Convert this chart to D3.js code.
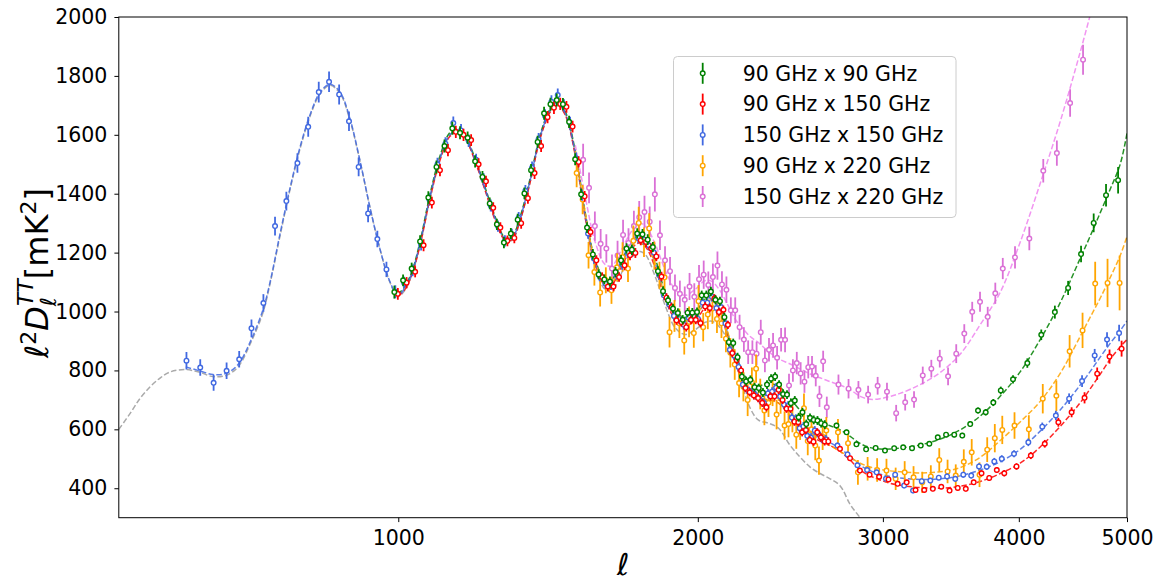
<!DOCTYPE html>
<html lang="en">
<head>
<meta charset="utf-8">
<script src="https://cdn.jsdelivr.net/npm/d3@7/dist/d3.min.js"></script>
<style>
  body { margin: 0; background: #fff; font-family: "DejaVu Sans", sans-serif; }
  .axis text { font-family: "DejaVu Sans", sans-serif; font-size: 20.5px; fill: #000; }
  .axis path { display: none; }
  .axis line { stroke: #000; stroke-width: 1; }
  .legend text { font-family: "DejaVu Sans", sans-serif; font-size: 20.5px; fill: #000; }
</style>
</head>
<body>
<svg id="chart" width="1160" height="577"></svg>
<script>
// multipole bin centres (dl ~21, then 60, then 120)
var ells = [
  594, 615, 636, 657, 678, 699, 720, 741, 762, 783,
  804, 825, 846, 867, 888, 909, 930, 951, 972, 993,
  1014, 1035, 1056, 1077, 1098, 1119, 1140, 1161, 1182, 1203,
  1224, 1245, 1266, 1287, 1308, 1329, 1350, 1371, 1392, 1413,
  1434, 1455, 1476, 1497, 1518, 1539, 1560, 1581, 1602, 1623,
  1644, 1665, 1686, 1707, 1728, 1749, 1770, 1791, 1812, 1833,
  1854, 1875, 1896, 1917, 1938, 1959, 1980, 2001, 2022, 2043,
  2064, 2085, 2106, 2127, 2148, 2169, 2190, 2211, 2232, 2253,
  2274, 2295, 2316, 2337, 2358, 2379, 2400, 2421, 2442, 2463,
  2484, 2505, 2526, 2547, 2568, 2589, 2610, 2631, 2652,
  2720, 2780, 2840, 2900, 2960, 3020, 3080, 3140, 3200, 3260,
  3320, 3380, 3440, 3500, 3560, 3620, 3680, 3740, 3800, 3860,
  3960, 4080, 4200, 4320, 4440, 4560, 4680, 4800, 4920
];

// 150 GHz x 150 GHz, starts at first bin
var blueVals = [
  833, 810, 758, 799, 838, 943, 1029, 1290, 1375, 1504,
  1627, 1745, 1780, 1737, 1646, 1491, 1333, 1246, 1143, 1067,
  1098, 1140, 1228, 1380, 1500, 1570, 1640, 1615, 1580, 1515,
  1450, 1360, 1290, 1240, 1262, 1318, 1410, 1488, 1585, 1665,
  1712, 1735, 1700, 1640, 1520, 1395, 1265, 1180, 1120, 1095,
  1090, 1125, 1160, 1200, 1205, 1250, 1245, 1225, 1200, 1125,
  1055, 1025, 985, 975, 955, 980, 985, 975, 1030, 1030,
  1050, 1012, 1015, 960, 870, 850, 812, 752, 735, 725,
  716, 702, 690, 722, 728, 742, 712, 684, 680, 640,
  636, 604, 610, 578, 572, 596, 584, 568, 566,
  545, 515, 478, 462, 454, 432, 446, 409, 392, 424,
  426, 436, 440, 432, 446, 443, 474, 473, 491, 500,
  517, 556, 609, 647, 704, 764, 851, 905, 927
];
var blueErr = [
  30, 28, 27, 28, 28, 30, 30, 32, 32, 33, 34, 35, 35, 34, 33, 32, 30, 28, 26, 22,
  20, 20, 21, 21, 22, 22, 22, 22, 21, 21, 20, 20, 19, 19, 19, 20, 20, 21, 21, 22, 22, 22, 21, 21, 20,
  19, 18, 18, 17, 17, 17, 17, 18, 18, 18, 18, 18, 18, 17, 17, 16, 16, 16, 16, 16,
  16, 16, 16, 16, 16, 16, 16, 15, 15, 15,
  15, 15, 15, 15, 15, 15, 15, 15, 15, 15, 15, 15, 15, 15, 15, 15, 15, 15, 15, 15, 15, 15, 15, 15,
  10, 10, 9, 9, 9, 9, 9, 9, 9, 9, 9, 9, 10, 10, 10, 10, 11, 11, 12, 12,
  12, 13, 14, 16, 18, 20, 22, 25, 28
];

// 90 GHz x 90 GHz, starts at l = 993
var greenVals = [
  1066, 1106, 1146, 1238, 1387, 1491, 1562, 1622, 1607, 1590,
  1510, 1457, 1367, 1296, 1234, 1265, 1312, 1401, 1480, 1576,
  1673, 1704, 1718, 1704, 1644, 1517,
  1398, 1285, 1194, 1126, 1109, 1102, 1134, 1174, 1214, 1210,
  1265, 1262, 1244, 1219, 1137, 1069, 1038, 1010, 995, 972,
  996, 996, 998, 1055, 1055, 1068, 1040, 1035, 981, 896,
  893, 845, 779, 763, 768, 743, 740, 725, 752, 772,
  779, 752, 720, 718, 689, 698, 641, 658, 618, 639,
  632, 630, 621, 616,
  613, 590, 549, 532, 537, 528, 536, 539, 536, 545,
  551, 573, 582, 582, 579, 618, 664, 658, 691, 732,
  770, 825, 921, 998, 1080, 1195, 1301, 1395, 1446
];
var greenErr = [
  22, 20, 20, 21, 21, 22, 22, 22, 22, 21, 21, 20, 20, 19, 19, 19, 20, 20, 21, 21, 22, 22, 22, 21, 21, 20,
  19, 18, 18, 17, 17, 17, 17, 18, 18, 18, 18, 18, 18, 17, 17, 16, 16, 16, 16, 16,
  16, 16, 16, 16, 16, 16, 16, 15, 15, 15,
  15, 15, 15, 15, 15, 15, 15, 15, 15, 15, 15, 15, 15, 15, 15, 15, 15, 15, 15, 15, 15, 15, 15, 15,
  9, 9, 8, 8, 8, 8, 8, 8, 8, 8, 8, 8, 9, 9, 9, 10, 10, 11, 12, 13,
  14, 16, 18, 22, 24, 28, 32, 38, 45
];

// 90 GHz x 150 GHz, starts at l = 993
var redVals = [
  1060, 1098, 1135, 1225, 1370, 1480, 1548, 1610, 1600, 1582,
  1500, 1442, 1352, 1285, 1240, 1250, 1300, 1385, 1470, 1562,
  1660, 1692, 1705, 1695, 1628, 1508,
  1391, 1270, 1174, 1117, 1085, 1085, 1117, 1157, 1191, 1199,
  1242, 1236, 1214, 1187, 1119, 1047, 1015, 970, 964, 947,
  972, 972, 961, 1017, 1012, 1044, 998, 1006, 955, 859,
  835, 800, 740, 726, 715, 706, 690, 675, 712, 712,
  734, 700, 670, 670, 626, 624, 590, 598, 564, 558,
  590, 573, 559, 559,
  534, 502, 460, 446, 439, 430, 415, 420, 394, 394,
  398, 405, 392, 401, 398, 420, 451, 435, 462, 451,
  474, 511, 551, 624, 658, 707, 789, 847, 874
];
var redErr = [
  20, 19, 19, 20, 20, 21, 21, 21, 21, 20, 20, 19, 19, 18, 18, 18, 19, 19, 20, 20, 21, 21, 21, 20, 20, 19,
  18, 17, 17, 16, 16, 16, 16, 17, 17, 17, 17, 17, 17, 16, 16, 15, 15, 15, 15, 15,
  15, 15, 15, 15, 15, 15, 15, 14, 14, 14,
  14, 14, 14, 14, 14, 14, 14, 14, 14, 14, 14, 14, 14, 14, 14, 14, 14, 14, 14, 14, 14, 14, 14, 14,
  8, 8, 8, 8, 8, 8, 8, 8, 8, 8, 8, 8, 8, 8, 9, 9, 10, 10, 10, 11,
  11, 12, 13, 15, 17, 19, 21, 24, 27
];

// 90 GHz x 220 GHz, starts at l = 1518
var orangeVals = [
  1470, 1380, 1191, 1134, 1065, 1106, 1072, 1150, 1185, 1146,
  1240, 1301, 1235, 1282, 1190, 1123, 1116, 930, 985, 960,
  902, 965, 927, 1035, 947, 990, 1010, 975, 960, 908,
  860, 820, 757, 745, 700, 760, 806, 720, 664, 690,
  725, 650, 705, 613, 618, 640, 582, 610, 672, 560,
  600, 545, 494, 575, 596,
  590, 553, 454, 466, 462, 460, 432, 454, 437, 420,
  440, 496, 457, 443, 490, 522, 446, 531, 570, 598,
  613, 600, 704, 714, 865, 936, 1095, 1097, 1097
];
var orangeErr = [
  48, 50, 45, 46, 48, 44, 46, 48, 50, 46, 52, 55, 50, 52, 48, 46, 50, 52, 54, 50,
  48, 52, 50, 55, 48, 50, 52, 48, 50, 46, 50, 52, 48, 50, 55, 50, 48, 52, 50, 48,
  46, 50, 52, 48, 45, 50, 48, 46, 50, 48, 45, 50, 48, 45, 46,
  45, 44, 42, 40, 40, 40, 38, 38, 38, 36, 38, 40, 40, 38, 42, 45, 42, 42, 48, 48,
  45, 48, 50, 52, 55, 60, 74, 82, 93
];

// 150 GHz x 220 GHz, starts at l = 1539
var violetVals = [
  1515, 1420, 1290, 1230, 1214, 1146, 1190, 1260, 1233, 1290,
  1320, 1338, 1305, 1398, 1259, 1174, 1137, 1080, 1060, 1040,
  1085, 1050, 1110, 1125, 1090, 1117, 1156, 1092, 1074, 1004,
  1004, 947, 905, 862, 862, 857, 930, 834, 870, 885,
  843, 904, 904, 749, 800, 825, 790, 762, 811, 813,
  782, 712, 831, 675,
  752, 738, 734, 718, 748, 728, 655, 692, 701, 783,
  806, 840, 780, 857, 925, 999, 1033, 982, 1062, 1146,
  1184, 1248, 1478, 1538, 1708, 1855
];
var violetErr = [
  55, 52, 50, 50, 48, 48, 50, 52, 50, 52, 55, 55, 52, 58, 50, 48, 48, 46, 45, 45,
  46, 46, 48, 48, 46, 46, 48, 45, 45, 44, 44, 42, 42, 40, 40, 40, 42, 40, 40, 42,
  40, 40, 42, 40, 38, 38, 38, 38, 38, 36, 36, 36, 36, 36,
  34, 33, 30, 30, 30, 30, 28, 28, 28, 30, 30, 30, 30, 32, 32, 34, 34, 34, 36, 36,
  38, 40, 40, 43, 47, 51
];

// knots of the dashed model curves
var modelEll = [
  500, 515, 528, 542, 556, 570, 593, 615, 635, 656,
  676, 698, 719, 732, 750, 769, 788, 808, 828, 848,
  869, 890, 912, 934, 957, 980, 999, 1016, 1033, 1053,
  1079, 1105, 1131, 1153, 1172, 1200, 1229, 1258, 1288, 1309,
  1333, 1365, 1397, 1430, 1453, 1480, 1515, 1550, 1586, 1622,
  1648, 1678, 1717, 1748, 1776, 1817, 1859, 1901, 1944, 1988,
  2033, 2065, 2102, 2140, 2173, 2207, 2247, 2287, 2338, 2390,
  2454, 2508, 2563, 2619, 2677, 2736, 2796, 2857, 2919, 2982,
  3047, 3113, 3249, 3390, 3536, 3689, 3847, 4011, 4182, 4359,
  4542, 4636, 4733, 4831, 4931, 5000
];
// CMB only, from l = 500
var greyModel = [
  600, 655, 705, 745, 775, 795, 803, 793, 779, 783,
  812, 895, 995, 1095, 1255, 1415, 1552, 1665, 1740, 1768,
  1740, 1650, 1510, 1355, 1212, 1100, 1052, 1072, 1125, 1225,
  1385, 1520, 1600, 1615, 1590, 1515, 1415, 1315, 1245, 1242,
  1305, 1440, 1590, 1680, 1708, 1672, 1535, 1320, 1150, 1075,
  1070, 1120, 1185, 1205, 1195, 1120, 1020, 945, 922, 938,
  963, 967, 945, 900, 835, 750, 672, 632, 621, 605,
  545, 505, 472, 450, 432, 408, 345, 300, 255, 215
];
// from l = 593
var blueModel = [
  812, 798, 786, 790, 820, 902, 1005, 1100, 1262, 1420,
  1558, 1670, 1745, 1772, 1745, 1655, 1512, 1355, 1212, 1102,
  1055, 1080, 1130, 1230, 1392, 1522, 1600, 1613, 1593, 1515,
  1415, 1316, 1246, 1250, 1314, 1446, 1594, 1684, 1709, 1674,
  1538, 1326, 1166, 1099, 1101, 1152, 1216, 1245, 1236, 1165,
  1052, 987, 967, 981, 1028, 1037, 1012, 918, 845, 780,
  738, 720, 715, 705, 660, 620, 592, 572, 555, 535,
  508, 478, 460, 448, 440, 435, 430, 432, 442, 462,
  490, 532, 594, 666, 750, 796, 845, 892, 935, 968
];
// from l = 999
var greenModel = [
  1058, 1085, 1135, 1235, 1400, 1530, 1608, 1620, 1597, 1520,
  1420, 1322, 1250, 1255, 1320, 1452, 1600, 1690, 1715, 1680,
  1545, 1335, 1175, 1108, 1110, 1162, 1228, 1258, 1250, 1180,
  1065, 1000, 980, 995, 1045, 1055, 1030, 920, 860, 800,
  760, 748, 755, 748, 705, 665, 640, 625, 612, 598,
  576, 552, 538, 533, 533, 536, 547, 567, 598, 645,
  712, 795, 905, 1030, 1180, 1255, 1335, 1415, 1500, 1605
];
var redModel = [
  1052, 1075, 1125, 1222, 1385, 1515, 1595, 1608, 1590, 1510,
  1410, 1310, 1242, 1245, 1308, 1440, 1588, 1678, 1703, 1668,
  1530, 1318, 1158, 1090, 1092, 1143, 1205, 1232, 1222, 1150,
  1040, 975, 955, 968, 1012, 1020, 995, 905, 830, 765,
  722, 705, 700, 690, 645, 605, 578, 560, 545, 525,
  495, 462, 442, 428, 417, 410, 402, 400, 407, 423,
  450, 485, 540, 610, 690, 737, 787, 838, 880, 905
];
// from l = 1515
var orangeModel = [
  1545, 1335, 1170, 1100, 1100, 1150, 1215, 1245, 1238, 1165,
  1055, 990, 970, 985, 1030, 1040, 1012, 925, 850, 780,
  730, 708, 700, 690, 648, 615, 588, 565, 545, 525,
  505, 485, 472, 464, 459, 456, 452, 456, 470, 505,
  562, 625, 695, 790, 915, 980, 1045, 1115, 1190, 1255
];
var violetModel = [
  1565, 1390, 1235, 1160, 1155, 1200, 1265, 1300, 1292, 1230,
  1140, 1075, 1055, 1075, 1105, 1102, 1070, 1020, 975, 945,
  915, 895, 865, 840, 822, 805, 788, 775, 762, 750,
  735, 712, 702, 704, 712, 722, 752, 793, 855, 955,
  1065, 1235, 1435, 1645, 1880, 2005
];

var xTicks = [1000, 2000, 3000, 4000, 5000];
var yTicks = [400, 600, 800, 1000, 1200, 1400, 1600, 1800, 2000];

var series = [
  { name: '90 GHz x 90 GHz', color: '#008000', line: '#008000', start: 993, vals: greenVals, err: greenErr, mStart: 999, model: greenModel, dodge: -1 },
  { name: '90 GHz x 150 GHz', color: '#ff0000', line: '#ff0000', start: 993, vals: redVals, err: redErr, mStart: 999, model: redModel, dodge: 2.5 },
  { name: '150 GHz x 150 GHz', color: '#4169e1', line: '#4169e1', start: 594, vals: blueVals, err: blueErr, mStart: 593, model: blueModel, dodge: 0 },
  { name: '90 GHz x 220 GHz', color: '#ffa500', line: '#ffa500', start: 1518, vals: orangeVals, err: orangeErr, mStart: 1515, model: orangeModel, dodge: 0.5 },
  { name: '150 GHz x 220 GHz', color: '#da70d6', line: '#ee82ee', start: 1539, vals: violetVals, err: violetErr, mStart: 1515, model: violetModel, dodge: 1 }
];

var plotLeft = 118.8, plotRight = 1127, plotTop = 17, plotBottom = 517.7;

var x = d3.scalePow().exponent(0.1)
  .domain([500, 5000])
  .range([plotLeft, plotRight]);

var y = d3.scaleLinear()
  .domain([300, 2000])
  .range([plotBottom, plotTop]);

var svg = d3.select('#chart');

svg.append('defs').append('clipPath')
  .attr('id', 'plotclip')
  .append('rect')
  .attr('x', plotLeft).attr('y', plotTop)
  .attr('width', plotRight - plotLeft).attr('height', plotBottom - plotTop);

var plot = svg.append('g').attr('clip-path', 'url(#plotclip)');

var line = d3.line()
  .defined(function (d) { return d.v != null; })
  .x(function (d) { return x(d.l); })
  .y(function (d) { return y(d.v); })
  .curve(d3.curveCatmullRom.alpha(0.5));

function modelPoints(start, vals) {
  var off = modelEll.indexOf(start);
  return vals.map(function (v, i) { return { l: modelEll[off + i], v: v }; });
}

// grey CMB-only curve
plot.append('path')
  .datum(modelPoints(500, greyModel))
  .attr('d', line)
  .attr('fill', 'none')
  .attr('stroke', '#aaaaaa')
  .attr('stroke-width', 1.5)
  .attr('stroke-dasharray', '5.5,2.4');

// coloured model curves
series.forEach(function (s) {
  plot.append('path')
    .datum(modelPoints(s.mStart, s.model))
    .attr('d', line)
    .attr('fill', 'none')
    .attr('stroke', s.line)
    .attr('stroke-opacity', 0.85)
    .attr('stroke-width', 1.5)
    .attr('stroke-dasharray', '5.5,2.4');
});

// data points, drawn back to front
var drawOrder = [4, 3, 2, 1, 0];
drawOrder.forEach(function (idx) {
  var s = series[idx];
  var off = ells.indexOf(s.start);
  var pts = s.vals.map(function (v, i) { return { l: ells[off + i], v: v, e: s.err[i] }; });
  var g = plot.append('g');

  g.selectAll('line')
    .data(pts)
    .enter().append('line')
    .attr('x1', function (d) { return x(d.l) + s.dodge; })
    .attr('x2', function (d) { return x(d.l) + s.dodge; })
    .attr('y1', function (d) { return y(d.v - d.e); })
    .attr('y2', function (d) { return y(d.v + d.e); })
    .attr('stroke', s.color)
    .attr('stroke-width', 1.8);

  g.selectAll('circle')
    .data(pts)
    .enter().append('circle')
    .attr('cx', function (d) { return x(d.l) + s.dodge; })
    .attr('cy', function (d) { return y(d.v); })
    .attr('r', 2.3)
    .attr('fill', 'white')
    .attr('stroke', s.color)
    .attr('stroke-width', 1.4);
});

// axes
var xAxis = d3.axisBottom(x)
  .tickValues(xTicks)
  .tickFormat(d3.format('d'))
  .tickSize(4.4)
  .tickPadding(8);

var yAxis = d3.axisLeft(y)
  .tickValues(yTicks)
  .tickFormat(d3.format('d'))
  .tickSize(4.4)
  .tickPadding(7);

svg.append('g')
  .attr('class', 'x axis')
  .attr('transform', 'translate(0,' + plotBottom + ')')
  .call(xAxis);

svg.append('g')
  .attr('class', 'y axis')
  .attr('transform', 'translate(' + plotLeft + ',0)')
  .call(yAxis);

// frame
svg.append('rect')
  .attr('x', plotLeft).attr('y', plotTop)
  .attr('width', plotRight - plotLeft).attr('height', plotBottom - plotTop)
  .attr('fill', 'none')
  .attr('stroke', '#000')
  .attr('stroke-width', 1);

// axis labels
svg.append('text')
  .attr('x', (plotLeft + plotRight) / 2)
  .attr('y', 575)
  .attr('text-anchor', 'middle')
  .style('font-family', 'DejaVu Sans')
  .style('font-style', 'italic')
  .style('font-size', '30px')
  .text('ℓ');

var ylab = svg.append('text')
  .attr('transform', 'translate(48,273) rotate(-90)')
  .attr('text-anchor', 'middle')
  .style('font-family', 'DejaVu Sans')
  .style('font-size', '32px');
ylab.append('tspan').style('font-style', 'italic').text('ℓ');
ylab.append('tspan').attr('dy', -12.5).style('font-size', '22px').text('2');
ylab.append('tspan').attr('dy', 12.5).style('font-style', 'italic').text('D');
ylab.append('tspan').attr('dy', 8).style('font-size', '22px').style('font-style', 'italic').text('ℓ');
ylab.append('tspan').attr('dx', -9).attr('dy', -23).style('font-size', '22px').style('font-style', 'italic').text('TT');
ylab.append('tspan').attr('dy', 15).text('[mK');
ylab.append('tspan').attr('dy', -12.5).style('font-size', '22px').text('2');
ylab.append('tspan').attr('dy', 12.5).text(']');

// legend
var legend = svg.append('g')
  .attr('class', 'legend')
  .attr('transform', 'translate(673.5,56.5)');

legend.append('rect')
  .attr('width', 282.5)
  .attr('height', 161)
  .attr('rx', 4)
  .attr('fill', 'white')
  .attr('fill-opacity', 0.8)
  .attr('stroke', '#cccccc')
  .attr('stroke-width', 1);

var rows = legend.selectAll('.row')
  .data(series)
  .enter().append('g')
  .attr('class', 'row')
  .attr('transform', function (d, i) { return 'translate(0,' + (16.8 + i * 30.8) + ')'; });

rows.append('line')
  .attr('x1', 29.2).attr('x2', 29.2)
  .attr('y1', -10.5).attr('y2', 10.5)
  .attr('stroke', function (d) { return d.color; })
  .attr('stroke-width', 1.8);

rows.append('circle')
  .attr('cx', 29.2).attr('cy', 0)
  .attr('r', 2.3)
  .attr('fill', 'white')
  .attr('stroke', function (d) { return d.color; })
  .attr('stroke-width', 1.4);

rows.append('text')
  .attr('x', 69.2)
  .attr('y', 0)
  .attr('dy', '0.36em')
  .text(function (d) { return d.name; });
</script>
</body>
</html>
